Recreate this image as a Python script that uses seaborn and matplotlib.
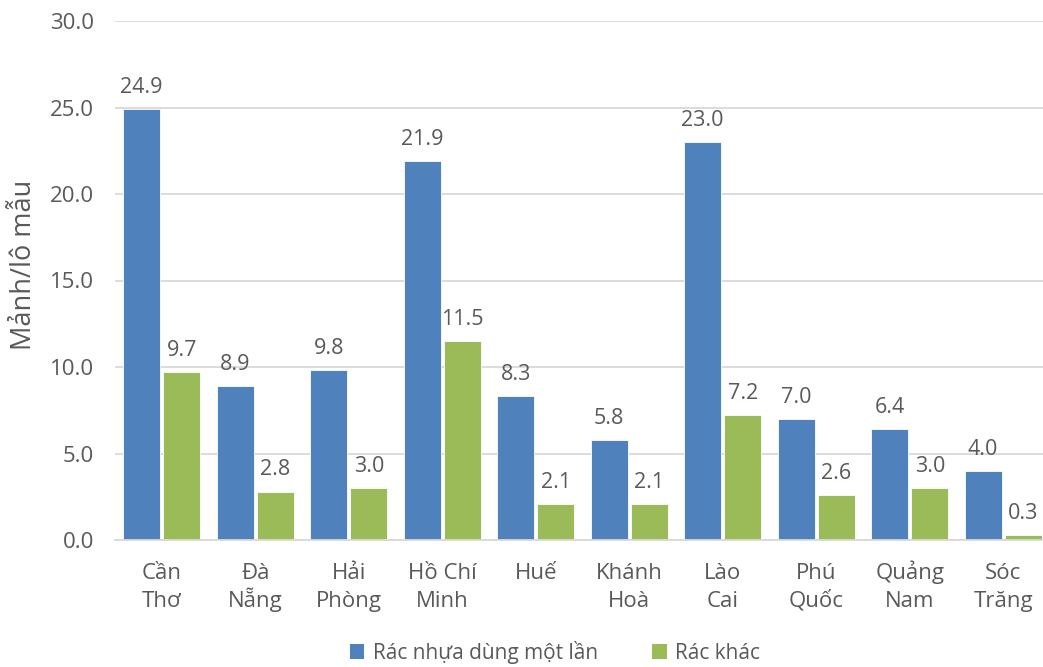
import matplotlib
matplotlib.use("Agg")
import matplotlib.pyplot as plt
import matplotlib.transforms as mtransforms
from matplotlib.patches import Patch
import seaborn as sns
import pandas as pd

cities = ["Cần\nThơ", "Đà\nNẵng", "Hải\nPhòng", "Hồ Chí\nMinh", "Huế",
          "Khánh\nHoà", "Lào\nCai", "Phú\nQuốc", "Quảng\nNam", "Sóc\nTrăng"]
single_use = [24.9, 8.9, 9.8, 21.9, 8.3, 5.8, 23.0, 7.0, 6.4, 4.0]
other_waste = [9.7, 2.8, 3.0, 11.5, 2.1, 2.1, 7.2, 2.6, 3.0, 0.3]
series_names = ["Rác nhựa dùng một lần", "Rác khác"]
y_ticks = [0, 5, 10, 15, 20, 25, 30]

colors = ["#4F81BD", "#9BBB59"]
text_color = "#595959"

df = pd.DataFrame({
    "city": cities * 2,
    "value": single_use + other_waste,
    "series": [series_names[0]] * len(cities) + [series_names[1]] * len(cities),
})

sns.set_theme(style="white")
plt.rcParams["font.family"] = ["Open Sans", "DejaVu Sans"]

W, H = 1043, 667
fig = plt.figure(figsize=(W / 100, H / 100), dpi=100)
ax_left, ax_right, ax_top, ax_bottom = 115, 1050, 21, 540
ax = fig.add_axes([ax_left / W, 1 - ax_bottom / H,
                   (ax_right - ax_left) / W, (ax_bottom - ax_top) / H])

sns.barplot(data=df, x="city", y="value", hue="series", palette=colors,
            width=0.86, gap=0.08, ax=ax, legend=False,
            edgecolor="white", linewidth=0.6, saturation=1)

for cont in ax.containers:
    ax.bar_label(cont, fmt="%.1f", padding=8, fontsize=15.5, color=text_color)

ax.set_ylim(0, 30)
ax.set_yticks(y_ticks)
ax.set_yticklabels([f"{v:.1f}" for v in y_ticks])
ax.set_xlim(-0.5, len(cities) - 0.5)
ax.yaxis.grid(True, color="#D9D9D9", linewidth=1.3)
ax.set_axisbelow(True)
for side in ["top", "right", "left"]:
    ax.spines[side].set_visible(False)
ax.spines["bottom"].set_color("#D9D9D9")
ax.spines["bottom"].set_linewidth(1.3)

ax.tick_params(axis="both", length=0, labelsize=16, colors=text_color)
ax.tick_params(axis="y", pad=15)

# Category names: each line placed on a shared baseline so accents don't shift rows
ax.set_xticks(range(len(cities)))
ax.set_xticklabels([""] * len(cities))
trans = mtransforms.blended_transform_factory(ax.transData, ax.transAxes)
axh = ax_bottom - ax_top
line_baselines = [-(579 - ax_bottom) / axh, -(607 - ax_bottom) / axh]
for i, name in enumerate(cities):
    for j, part in enumerate(name.split("\n")):
        ax.text(i, line_baselines[j], part, transform=trans, ha="center",
                va="baseline", fontsize=16, color=text_color)

ax.set_xlabel("")
ax.set_ylabel("Mảnh/lô mẫu", fontsize=19.5, color=text_color)
ax.yaxis.set_label_coords(-(ax_left - 38) / (ax_right - ax_left),
                          (ax_bottom - 265) / axh)

handles = [Patch(facecolor=c, edgecolor="none") for c in colors]
fig.legend(handles, series_names, loc="center", bbox_to_anchor=(0.532, 0.022),
           ncol=2, frameon=False, fontsize=15, labelcolor=text_color,
           handlelength=0.7, handleheight=0.7, handletextpad=0.4,
           columnspacing=2.6)

fig.savefig("out.png", dpi=100)
